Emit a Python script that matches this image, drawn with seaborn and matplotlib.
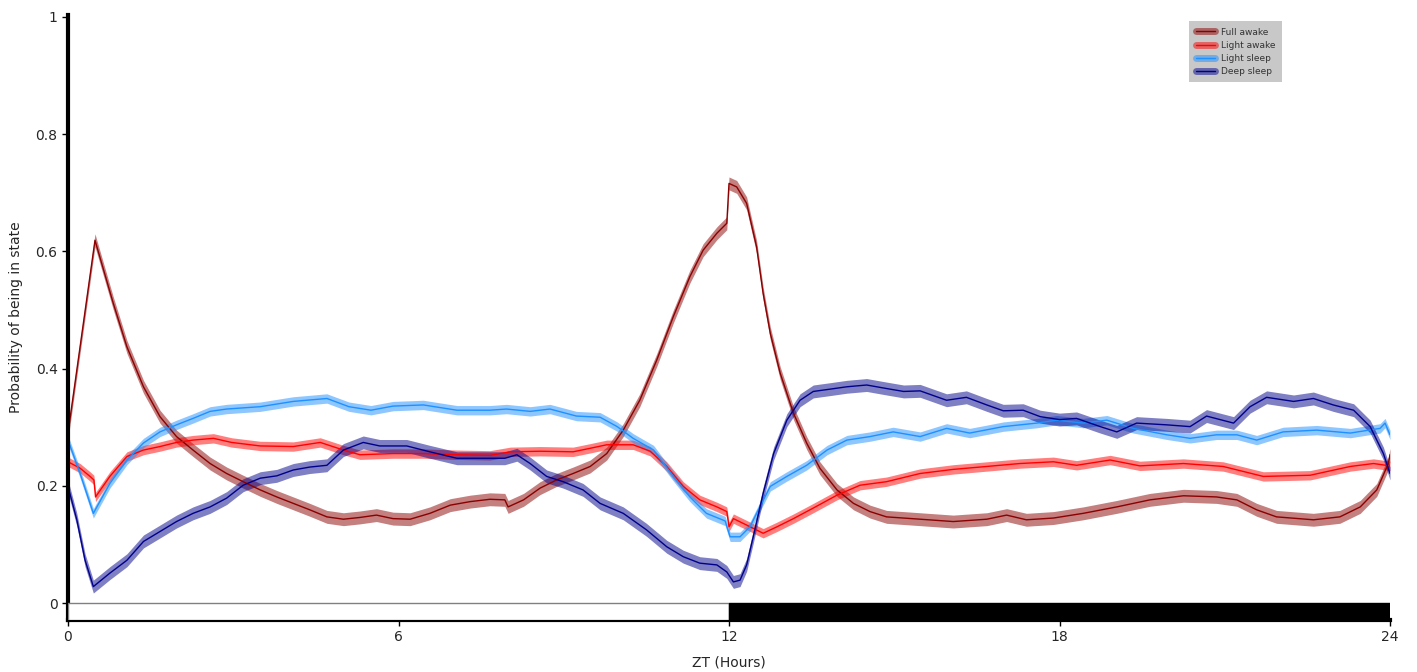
"""Probability of being in each sleep state across the 24 h ZT cycle."""

import matplotlib
matplotlib.use("Agg")
import matplotlib.pyplot as plt
import pandas as pd
import seaborn as sns
from matplotlib.lines import Line2D
from matplotlib.patches import Rectangle

# ---- data -----------------------------------------------------------------

FULL_AWAKE_ZT = [0.0, 0.49, 0.82, 1.07, 1.37, 1.67, 1.97, 2.27, 2.58, 2.88,
                 3.18, 3.49, 3.79, 4.09, 4.39, 4.70, 5.0, 5.3, 5.6, 5.9,
                 6.21, 6.57, 6.94, 7.30, 7.66, 7.93, 7.99, 8.27, 8.57, 8.87,
                 9.17, 9.48, 9.78, 10.08, 10.38, 10.69, 10.99, 11.29, 11.53,
                 11.78, 11.96, 12.0, 12.14, 12.32, 12.5, 12.62, 12.75, 12.93,
                 13.17, 13.41, 13.65, 13.96, 14.26, 14.56, 14.86, 15.47,
                 16.07, 16.68, 17.04, 17.4, 17.89, 18.43, 19.04, 19.64,
                 20.25, 20.85, 21.22, 21.58, 21.94, 22.61, 23.09, 23.46,
                 23.76, 23.97, 24.0]
FULL_AWAKE = [0.29, 0.619, 0.512, 0.437, 0.369, 0.318, 0.284, 0.261, 0.238,
              0.221, 0.207, 0.193, 0.181, 0.170, 0.159, 0.147, 0.143, 0.146,
              0.150, 0.144, 0.143, 0.153, 0.167, 0.173, 0.177, 0.176, 0.164,
              0.176, 0.196, 0.210, 0.221, 0.233, 0.255, 0.295, 0.346, 0.415,
              0.489, 0.557, 0.602, 0.631, 0.648, 0.716, 0.710, 0.682, 0.608,
              0.528, 0.460, 0.392, 0.324, 0.273, 0.230, 0.193, 0.170, 0.156,
              0.147, 0.143, 0.139, 0.143, 0.150, 0.142, 0.145, 0.153, 0.164,
              0.176, 0.183, 0.181, 0.176, 0.159, 0.147, 0.142, 0.147, 0.164,
              0.193, 0.238, 0.253]

LIGHT_AWAKE_ZT = [0.0, 0.22, 0.40, 0.47, 0.50, 0.76, 1.07, 1.37, 1.67, 1.97,
                  2.27, 2.64, 2.97, 3.49, 4.09, 4.58, 5.0, 5.3, 5.9, 6.45,
                  7.06, 7.66, 8.03, 8.57, 9.17, 9.48, 9.78, 10.26, 10.57,
                  10.87, 11.17, 11.47, 11.78, 11.96, 12.0, 12.08, 12.32,
                  12.62, 12.87, 13.17, 13.53, 13.96, 14.38, 14.86, 15.47,
                  16.07, 16.68, 17.28, 17.89, 18.31, 18.92, 19.46, 20.25,
                  20.97, 21.7, 22.55, 23.28, 23.7, 24.0]
LIGHT_AWAKE = [0.241, 0.230, 0.216, 0.210, 0.181, 0.216, 0.250, 0.261, 0.267,
               0.274, 0.278, 0.281, 0.274, 0.268, 0.267, 0.274, 0.261, 0.253,
               0.255, 0.255, 0.253, 0.252, 0.258, 0.259, 0.258, 0.264, 0.270,
               0.270, 0.259, 0.233, 0.199, 0.176, 0.164, 0.156, 0.130, 0.144,
               0.133, 0.119, 0.130, 0.144, 0.162, 0.184, 0.201, 0.207, 0.221,
               0.228, 0.233, 0.238, 0.241, 0.235, 0.244, 0.234, 0.238, 0.233,
               0.216, 0.218, 0.233, 0.238, 0.234]

LIGHT_SLEEP_ZT = [0.0, 0.22, 0.46, 0.76, 1.07, 1.37, 1.67, 1.97, 2.27, 2.58,
                  2.88, 3.49, 4.09, 4.70, 5.1, 5.5, 5.9, 6.45, 7.06, 7.66,
                  7.96, 8.39, 8.75, 9.23, 9.66, 9.97, 10.26, 10.63, 10.99,
                  11.29, 11.59, 11.93, 12.02, 12.2, 12.38, 12.56, 12.75,
                  13.05, 13.41, 13.78, 14.14, 14.56, 14.98, 15.47, 15.95,
                  16.37, 16.98, 17.59, 17.95, 18.43, 18.86, 19.34, 19.95,
                  20.37, 20.85, 21.22, 21.58, 22.06, 22.67, 23.28, 23.82,
                  23.91, 24.0]
LIGHT_SLEEP = [0.278, 0.221, 0.153, 0.204, 0.244, 0.273, 0.292, 0.304, 0.315,
               0.327, 0.331, 0.335, 0.344, 0.349, 0.335, 0.329, 0.336, 0.338,
               0.329, 0.329, 0.331, 0.327, 0.331, 0.319, 0.317, 0.301, 0.281,
               0.261, 0.216, 0.181, 0.153, 0.140, 0.113, 0.113, 0.130, 0.164,
               0.199, 0.216, 0.235, 0.261, 0.278, 0.284, 0.292, 0.284, 0.298,
               0.290, 0.301, 0.307, 0.312, 0.307, 0.312, 0.298, 0.287, 0.281,
               0.287, 0.287, 0.278, 0.292, 0.295, 0.290, 0.298, 0.307, 0.287]

DEEP_SLEEP_ZT = [0.0, 0.16, 0.31, 0.46, 0.76, 1.07, 1.37, 1.67, 1.97, 2.27,
                 2.58, 2.88, 3.18, 3.49, 3.79, 4.09, 4.39, 4.70, 5.0, 5.36,
                 5.66, 6.15, 6.57, 7.06, 7.54, 7.93, 8.15, 8.39, 8.69, 8.99,
                 9.35, 9.66, 10.08, 10.5, 10.87, 11.17, 11.47, 11.78, 11.96,
                 12.08, 12.2, 12.32, 12.44, 12.62, 12.81, 13.05, 13.29, 13.53,
                 13.84, 14.14, 14.5, 14.86, 15.17, 15.47, 15.95, 16.31, 16.68,
                 16.98, 17.34, 17.65, 18.0, 18.31, 18.74, 19.04, 19.4, 19.95,
                 20.37, 20.67, 21.16, 21.46, 21.76, 22.25, 22.61, 22.97,
                 23.34, 23.64, 23.88, 24.0]
DEEP_SLEEP = [0.199, 0.142, 0.073, 0.028, 0.051, 0.073, 0.105, 0.122, 0.139,
              0.153, 0.164, 0.179, 0.201, 0.213, 0.217, 0.227, 0.232, 0.235,
              0.261, 0.274, 0.268, 0.268, 0.258, 0.247, 0.247, 0.247, 0.253,
              0.238, 0.216, 0.207, 0.193, 0.170, 0.153, 0.125, 0.096, 0.079,
              0.068, 0.065, 0.053, 0.036, 0.039, 0.065, 0.113, 0.187, 0.255,
              0.312, 0.346, 0.361, 0.365, 0.369, 0.372, 0.366, 0.361, 0.362,
              0.346, 0.351, 0.338, 0.328, 0.329, 0.318, 0.313, 0.315, 0.301,
              0.292, 0.307, 0.304, 0.301, 0.319, 0.307, 0.335, 0.351, 0.344,
              0.349, 0.338, 0.329, 0.301, 0.255, 0.221]

# half-width of the shaded error band, one per state
STATE_SEM = {"Full awake": 0.011, "Light awake": 0.008,
             "Light sleep": 0.008, "Deep sleep": 0.011}

STATES = [
    ("Full awake", FULL_AWAKE_ZT, FULL_AWAKE),
    ("Light awake", LIGHT_AWAKE_ZT, LIGHT_AWAKE),
    ("Light sleep", LIGHT_SLEEP_ZT, LIGHT_SLEEP),
    ("Deep sleep", DEEP_SLEEP_ZT, DEEP_SLEEP),
]

LINE_COLORS = {"Full awake": "#8b0000", "Light awake": "#ff0000",
               "Light sleep": "#1e90ff", "Deep sleep": "#00008b"}

X_TICKS = [0, 6, 12, 18, 24]
Y_TICKS = [0, 0.2, 0.4, 0.6, 0.8, 1]

# ---- figure -----------------------------------------------------------------

sns.set_style("white")
plt.rcParams["font.family"] = ["DejaVu Sans"]

fig = plt.figure(figsize=(14.17, 6.72), dpi=100)
ax = fig.add_axes([68 / 1417, 52 / 672, 1322 / 1417, 605 / 672])

frames = []
for name, zt, vals in STATES:
    frames.append(pd.DataFrame({"zt": zt, "p": vals, "state": name}))
df = pd.concat(frames, ignore_index=True)

for name, _, _ in STATES:
    sub = df[df["state"] == name]
    sem = STATE_SEM[name]
    ax.fill_between(sub["zt"], sub["p"] - sem, sub["p"] + sem,
                    color=LINE_COLORS[name], alpha=0.5, linewidth=0)
sns.lineplot(data=df, x="zt", y="p", hue="state", palette=LINE_COLORS,
             linewidth=1.0, sort=False, estimator=None, legend=False, ax=ax)

# light/dark bar under the curves
bar_h = 0.029
ax.add_patch(Rectangle((0, -bar_h), 12, bar_h, facecolor="white",
                       edgecolor="#808080", linewidth=1, zorder=3))
ax.add_patch(Rectangle((12, -bar_h), 12, bar_h, facecolor="black",
                       edgecolor="black", linewidth=1, zorder=3))

ax.set_xlim(0, 24)
ax.set_ylim(-bar_h, 1.0034)
ax.set_xticks(X_TICKS)
ax.set_xticklabels([str(t) for t in X_TICKS])
ax.set_yticks(Y_TICKS)
ax.set_yticklabels([f"{t:g}" for t in Y_TICKS])
ax.tick_params(axis="both", direction="out", length=4, width=1,
               labelsize=10, color="black", left=True, bottom=True)
ax.set_xlabel("ZT (Hours)", fontsize=10, labelpad=8)
ax.set_ylabel("Probability of being in state", fontsize=10, labelpad=9)

for side in ["top", "right"]:
    ax.spines[side].set_visible(False)
for side in ["left", "bottom"]:
    ax.spines[side].set_linewidth(3)
    ax.spines[side].set_color("black")

handles = []
for name, _, _ in STATES:
    c = LINE_COLORS[name]
    handles.append((Line2D([], [], color=c, alpha=0.5, linewidth=5),
                    Line2D([], [], color=c, linewidth=1.0)))
ax.legend(handles, [s[0] for s in STATES], loc="upper right",
          bbox_to_anchor=(0.9215, 0.997), fontsize=6.5, frameon=True,
          facecolor="#c8c8c8", edgecolor="none", framealpha=1,
          fancybox=False, handlelength=2.2, labelcolor="#333333",
          borderpad=0.7, labelspacing=0.45, handletextpad=0.6)

fig.savefig("out.png", dpi=100)
plt.close(fig)
